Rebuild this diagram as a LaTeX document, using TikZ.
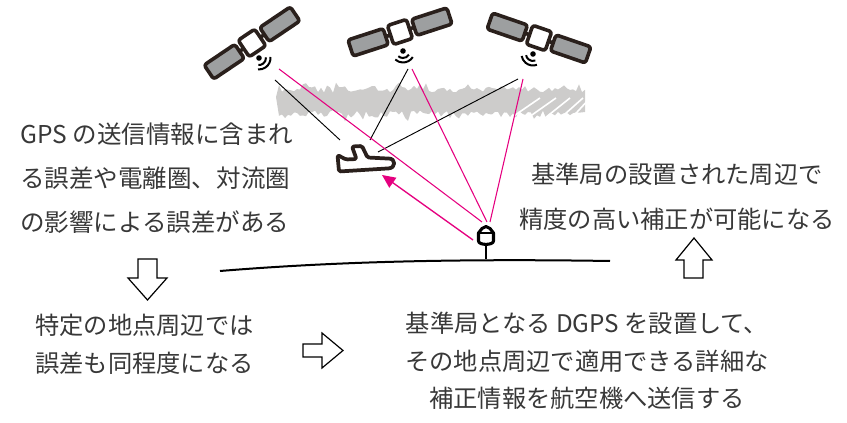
\documentclass[tikz,border=0pt]{standalone}
\usepackage{fontspec}
\newfontfamily\jpfont{Noto Sans CJK JP}
\usetikzlibrary{arrows.meta}
\definecolor{ink}{HTML}{2A201C}
\definecolor{panelgray}{HTML}{9D9FA0}
\definecolor{cloudgray}{HTML}{CDCCCB}
\definecolor{signalpink}{HTML}{E5007F}
\definecolor{txt}{HTML}{383838}
\tikzset{
  satline/.style={draw=ink, line width=2.7pt, line join=round},
  satellite/.pic={
    \draw[satline, line cap=butt] (-16,0) -- (16,0);
    \draw[satline, fill=panelgray, rounded corners=2pt] (15,-8.5) rectangle (52,8.5);
    \draw[satline, fill=panelgray, rounded corners=2pt] (-15,-8.5) rectangle (-52,8.5);
    \draw[satline, fill=white, rounded corners=2pt] (-10,-10) rectangle (10,10);
  },
  signal/.pic={
    \fill[black] (0,0) circle (2.8);
    \draw[black, line width=1.5pt] (-50:7) arc (-50:50:7);
    \draw[black, line width=1.5pt] (-50:11.5) arc (-50:50:11.5);
  },
  ray/.style={draw=black, line width=0.7pt},
  pinkray/.style={draw=signalpink, line width=0.8pt},
  hollow/.style={draw=black, line width=0.9pt, fill=white, line join=miter},
  caption/.style={inner sep=0pt, text=txt}
}
\begin{document}
\begin{tikzpicture}[x=0.75pt,y=-0.75pt]
\useasboundingbox (0,0) rectangle (847,423);

% ragged cloud band
\pgfmathsetseed{17}
\fill[cloudgray] (276,97)
  \foreach \x in {279,282,...,585} { -- (\x,{89-8*rnd*rnd+4*rnd}) }
  -- (585,112)
  \foreach \x in {582,579,...,279} { -- (\x,{113+10*rnd*rnd-3*rnd}) }
  -- cycle;
\foreach \a/\b in {505/540,522/556,540/570,556/583,568/590}
  \draw[white, line width=1.2pt] (\a,122) -- (\b,98);

% satellites
\pic[rotate=34] at (252,43) {satellite};
\pic[rotate=18] at (400,32) {satellite};
\pic[rotate=-19] at (539,38) {satellite};
\pic[rotate=-45] at (259,58) {signal};
\pic[rotate=-82] at (403,51) {signal};
\pic[rotate=-120] at (533,54) {signal};

% end points of the signal paths
\coordinate (s1k) at (275,80);
\coordinate (s1p) at (279,69);
\coordinate (s2k) at (408,69);
\coordinate (s2p) at (412,69);
\coordinate (s3k) at (518,79);
\coordinate (s3p) at (523,79);
\coordinate (pk1) at (340,140);
\coordinate (pk2) at (370,140);
\coordinate (pk3) at (378,152);
\coordinate (st1) at (482,222);
\coordinate (st2) at (487,222);
\coordinate (st3) at (490,222);
\coordinate (ar0) at (473,240);
\coordinate (ar1) at (382,175);

\draw[ray] (s1k) -- (pk1);
\draw[ray] (s2k) -- (pk2);
\draw[ray] (s3k) -- (pk3);
\draw[pinkray] (s1p) -- (st1);
\draw[pinkray] (s2p) -- (st2);
\draw[pinkray] (s3p) -- (st3);
\draw[signalpink, line width=1pt, -{Triangle[length=10pt,width=9pt]}] (ar0) -- (ar1);

% aircraft
\draw[ink, line width=2.8pt, fill=white, line join=round, rounded corners=1.2pt]
  (337.5,155) -- (339,171.5) -- (387,168.5)
  .. controls (396,168) and (396,158.5) .. (387,158.5)
  -- (367.5,157.5) -- (362,146) -- (352,146.5) -- (356.5,159) -- (346,159.5) -- cycle;

% reference station
\draw[black, line width=1.6pt] (486,244) -- (486,259);
\draw[black, line width=2.3pt, fill=white, line join=round]
  (478.5,233) -- (482,228.5) -- (486,226.5) -- (490,228.5) -- (493.5,233)
  -- (493.5,241) .. controls (493.5,245.5) and (478.5,245.5) .. (478.5,241) -- cycle;
\draw[black, line width=1.6pt] (478.5,233) -- (493.5,233);

% ground
\draw[black, line width=1.5pt] (220,271) .. controls (330,262) and (450,258.5) .. (610,261);

% hollow block arrows
\draw[hollow] (138,259) -- (157,259) -- (157,278) -- (167,278) -- (147.5,300)
  -- (128,278) -- (138,278) -- cycle;
\draw[hollow] (303,344) -- (322,344) -- (322,333) -- (343,350.5) -- (322,368)
  -- (322,357) -- (303,357) -- cycle;
\draw[hollow] (684,278) -- (684,260) -- (676,260) -- (694,238) -- (712,260)
  -- (703,260) -- (703,278) -- cycle;

% captions
\node[caption, anchor=west, align=left, font=\jpfont\fontsize{18.4}{33}\selectfont] (gpserr) at (20,178)
  {GPS の送信情報に含まれ\\る誤差や電離圏、対流圏\\の影響による誤差がある};
\node[caption, align=center, font=\jpfont\fontsize{18.2}{33.75}\selectfont] (near) at (677,197)
  {基準局の設置された周辺で\\精度の高い補正が可能になる};
\node[caption, anchor=west, align=left, font=\jpfont\fontsize{18.2}{28.5}\selectfont] (local) at (35,344)
  {特定の地点周辺では\\誤差も同程度になる};
\node[caption, align=center, font=\jpfont\fontsize{18.2}{28.1}\selectfont] (dgps) at (587,361)
  {基準局となる DGPS を設置して、\\その地点周辺で適用できる詳細な\\補正情報を航空機へ送信する};
\end{tikzpicture}
\end{document}
